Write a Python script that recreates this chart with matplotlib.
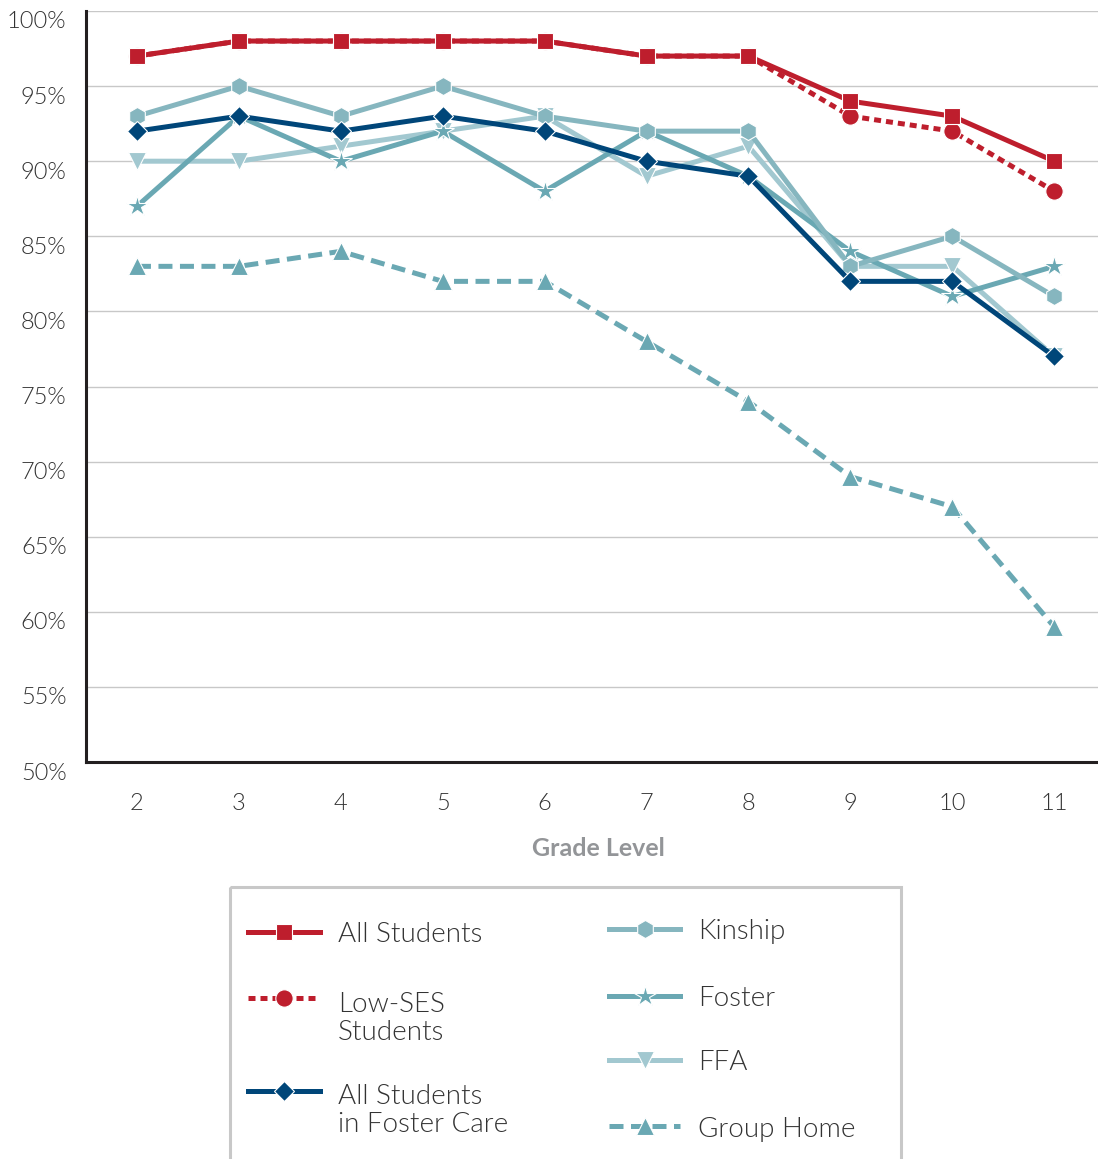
import matplotlib
matplotlib.use("Agg")
import matplotlib.pyplot as plt
from matplotlib.lines import Line2D
from matplotlib.patches import Rectangle
from matplotlib.transforms import ScaledTranslation

plt.rcParams['font.family'] = ['Lato', 'DejaVu Sans']
plt.rcParams['font.weight'] = 300

grades = [2, 3, 4, 5, 6, 7, 8, 9, 10, 11]
all_students = [97, 98, 98, 98, 98, 97, 97, 94, 93, 90]
low_ses = [97, 98, 98, 98, 98, 97, 97, 93, 92, 88]
foster_care_all = [92, 93, 92, 93, 92, 90, 89, 82, 82, 77]
kinship = [93, 95, 93, 95, 93, 92, 92, 83, 85, 81]
foster = [87, 93, 90, 92, 88, 92, 89, 84, 81, 83]
ffa = [90, 90, 91, 92, 93, 89, 91, 83, 83, 77]
group_home = [83, 83, 84, 82, 82, 78, 74, 69, 67, 59]
yticks = [50, 55, 60, 65, 70, 75, 80, 85, 90, 95, 100]

RED = '#BE1E2D'
NAVY = '#004679'
KIN = '#86B6BF'
FOS = '#6AA8B3'
FFA_C = '#A2C8D0'
GH = '#6AA8B3'
TXT = '#333333'

W, H = 1098, 1159
fig = plt.figure(figsize=(W / 100, H / 100), dpi=100)
ax = fig.add_axes([86 / W, 1 - 762 / H, (1098 - 86) / W, (762 - 11) / H])

LW = 3.6
series = [
    # (values, color, marker, markersize, linestyle, label, zorder)
    (group_home, GH, '^', 12.5, (0, (2.8, 1.5)), 'Group Home', 2),
    (ffa, FFA_C, 'v', 12.5, '-', 'FFA', 3),
    (foster, FOS, '*', 16, '-', 'Foster', 4),
    (kinship, KIN, 'h', 13, '-', 'Kinship', 5),
    (foster_care_all, NAVY, 'D', 10, '-', 'All Students\nin Foster Care', 6),
    (low_ses, RED, 'o', 12.5, (0, (1.4, 1.0)), 'Low-SES\nStudents', 7),
    (all_students, RED, 's', 12, '-', 'All Students', 8),
]
for vals, col, mk, ms, ls, lab, z in series:
    ax.plot(grades, vals, color=col, lw=LW, ls=ls, marker=mk, ms=ms,
            markeredgecolor='white', markeredgewidth=0.8, zorder=z,
            solid_joinstyle='miter', dash_capstyle='butt')

ax.set_xlim(1.5, 11.43)
ax.set_ylim(50, 100)
ax.set_xticks(grades)
ax.set_yticks(yticks)
ax.set_yticklabels([f'{v}%' for v in yticks])
ax.grid(axis='y', color='#C8C8C8', lw=1.0, zorder=0)
ax.set_axisbelow(True)
for s in ['top', 'right']:
    ax.spines[s].set_visible(False)
for s in ['left', 'bottom']:
    ax.spines[s].set_color('#231F20')
    ax.spines[s].set_linewidth(2.2)
ax.tick_params(axis='both', length=0, labelsize=17, labelcolor=TXT)
ax.tick_params(axis='y', pad=14)
ax.tick_params(axis='x', pad=22)
for lbl in ax.get_yticklabels():
    lbl.set_transform(lbl.get_transform() + ScaledTranslation(0, -0.09, fig.dpi_scale_trans))
ax.set_xlabel('Grade Level', fontsize=18, fontweight='bold', color='#939598', labelpad=16)
ax.xaxis.set_label_coords(0.505, -0.1, transform=ax.transAxes)
ax.xaxis.label.set_va('center')
ax.xaxis.set_label_coords((598 - 86) / (1098 - 86), -(848 - 762) / (762 - 11))

# legend panel drawn in pixel coordinates
lax = fig.add_axes([0, 0, 1, 1])
lax.set_xlim(0, W)
lax.set_ylim(H, 0)
lax.axis('off')
lax.add_patch(Rectangle((230, 887), 671, 300, fill=False, edgecolor='#C8C8C8', lw=2.2))

legend_slots = {
    'All Students': (248, 320, 932, 935),
    'Low-SES\nStudents': (248, 320, 998, 1018),
    'All Students\nin Foster Care': (248, 320, 1091, 1111),
    'Kinship': (609, 680, 929, 932),
    'Foster': (609, 680, 996, 999),
    'FFA': (609, 680, 1060, 1063),
    'Group Home': (609, 680, 1126, 1129),
}
for vals, col, mk, ms, ls, lab, z in series:
    x0, x1, yh, yt = legend_slots[lab]
    lax.add_line(Line2D([x0, x1], [yh, yh], color=col, lw=LW, ls=ls,
                        dash_capstyle='butt'))
    lax.add_line(Line2D([(x0 + x1) / 2], [yh], color=col, marker=mk, ms=ms,
                        markeredgecolor='white', markeredgewidth=0.8, ls='none'))
    lax.text(x1 + 18, yt, lab, fontsize=20, color=TXT,
             va='center', ha='left', linespacing=1.15)

fig.savefig('out.png', dpi=100, facecolor='white')
